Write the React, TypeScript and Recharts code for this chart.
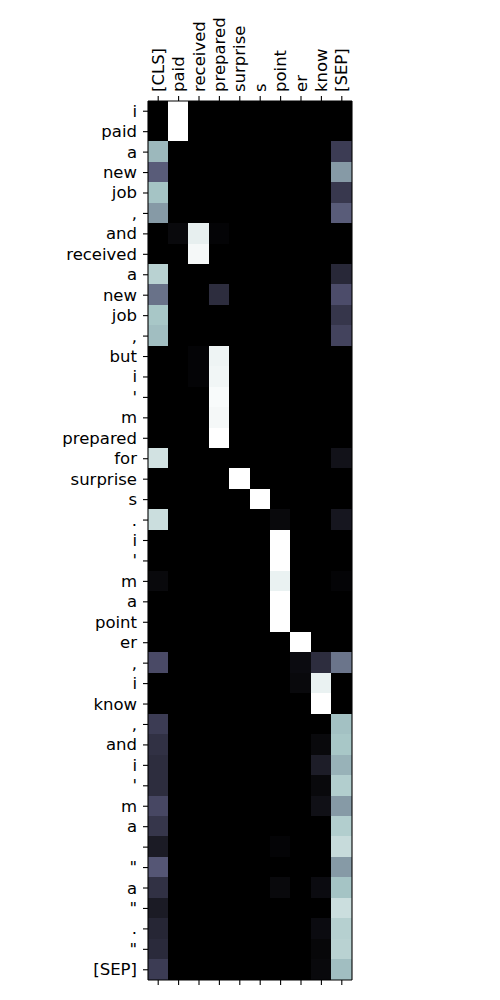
import React from "react";
import { BarChart, Bar, XAxis, YAxis, Cell } from "recharts";

const colLabels = ["[CLS]", "paid", "received", "prepared", "surprise", "s", "point", "er", "know", "[SEP]"];

const rowLabels = [
  "i", "paid", "a", "new", "job", ",", "and", "received", "a", "new", "job", ",",
  "but", "i", "'", "m", "prepared", "for", "surprise", "s", ".", "i", "'", "m",
  "a", "point", "er", ",", "i", "know", ",", "and", "i", "'", "m", "a", "",
  "\"", "a", "\"", ".", "\"", "[SEP]",
];

// attention weights per key column (rows in rowLabels order)
const colCLS = [0, 0, 0.7, 0.4, 0.74, 0.6, 0, 0, 0.8, 0.47, 0.75, 0.72, 0, 0, 0, 0, 0, 0.87, 0, 0, 0.85, 0, 0, 0.04, 0, 0, 0, 0.33, 0, 0, 0.27, 0.22, 0.2, 0.2, 0.32, 0.24, 0.12, 0.38, 0.22, 0.12, 0.17, 0.19, 0.27];
const colPaid = [1, 1, 0, 0, 0, 0, 0.04, 0, 0, 0, 0, 0, 0, 0, 0, 0, 0, 0, 0, 0, 0, 0, 0, 0, 0, 0, 0, 0, 0, 0, 0, 0, 0, 0, 0, 0, 0, 0, 0, 0, 0, 0, 0];
const colReceived = [0, 0, 0, 0, 0, 0, 0.93, 0.97, 0, 0, 0, 0, 0.02, 0.02, 0, 0, 0, 0, 0, 0, 0, 0, 0, 0, 0, 0, 0, 0, 0, 0, 0, 0, 0, 0, 0, 0, 0, 0, 0, 0, 0, 0, 0];
const colPrepared = [0, 0, 0, 0, 0, 0, 0.02, 0, 0, 0.2, 0, 0, 0.95, 0.96, 0.98, 0.97, 1, 0, 0, 0, 0, 0, 0, 0, 0, 0, 0, 0, 0, 0, 0, 0, 0, 0, 0, 0, 0, 0, 0, 0, 0, 0, 0];
const colSurprise = [0, 0, 0, 0, 0, 0, 0, 0, 0, 0, 0, 0, 0, 0, 0, 0, 0, 0, 1, 0, 0, 0, 0, 0, 0, 0, 0, 0, 0, 0, 0, 0, 0, 0, 0, 0, 0, 0, 0, 0, 0, 0, 0];
const colS = [0, 0, 0, 0, 0, 0, 0, 0, 0, 0, 0, 0, 0, 0, 0, 0, 0, 0, 0, 1, 0, 0, 0, 0, 0, 0, 0, 0, 0, 0, 0, 0, 0, 0, 0, 0, 0, 0, 0, 0, 0, 0, 0];
const colPoint = [0, 0, 0, 0, 0, 0, 0, 0, 0, 0, 0, 0, 0, 0, 0, 0, 0, 0, 0, 0, 0.04, 1, 1, 0.94, 1, 1, 0, 0, 0, 0, 0, 0, 0, 0, 0, 0, 0.02, 0, 0.04, 0, 0, 0, 0];
const colEr = [0, 0, 0, 0, 0, 0, 0, 0, 0, 0, 0, 0, 0, 0, 0, 0, 0, 0, 0, 0, 0, 0, 0, 0, 0, 0, 1, 0.05, 0.04, 0, 0, 0, 0, 0, 0, 0, 0, 0, 0, 0, 0, 0, 0];
const colKnow = [0, 0, 0, 0, 0, 0, 0, 0, 0, 0, 0, 0, 0, 0, 0, 0, 0, 0, 0, 0, 0, 0, 0, 0, 0, 0, 0, 0.2, 0.94, 1, 0, 0.04, 0.13, 0.04, 0.07, 0, 0, 0, 0.05, 0, 0.05, 0.03, 0.04];
const colSEP = [0, 0, 0.27, 0.6, 0.25, 0.4, 0, 0, 0.18, 0.34, 0.24, 0.3, 0, 0, 0, 0, 0, 0.08, 0, 0, 0.1, 0, 0, 0.02, 0, 0, 0, 0.48, 0, 0, 0.73, 0.75, 0.68, 0.78, 0.6, 0.78, 0.84, 0.6, 0.74, 0.85, 0.79, 0.8, 0.72];

const columns = [colCLS, colPaid, colReceived, colPrepared, colSurprise, colS, colPoint, colEr, colKnow, colSEP];

// matplotlib "bone" colormap
function interp(t: number, pts: number[][]): number {
  for (let i = 1; i < pts.length; i++) {
    if (t <= pts[i][0]) {
      const [x0, y0] = pts[i - 1];
      const [x1, y1] = pts[i];
      return y0 + ((t - x0) / (x1 - x0)) * (y1 - y0);
    }
  }
  return pts[pts.length - 1][1];
}
function bone(v: number): string {
  const t = Math.max(0, Math.min(1, v));
  const r = interp(t, [[0, 0], [0.746032, 0.652778], [1, 1]]);
  const g = interp(t, [[0, 0], [0.365079, 0.319444], [0.746032, 0.777778], [1, 1]]);
  const b = interp(t, [[0, 0], [0.365079, 0.444444], [1, 1]]);
  const h = (x: number) => Math.round(x * 255).toString(16).padStart(2, "0");
  return `#${h(r)}${h(g)}${h(b)}`;
}

const data = rowLabels.map((_, i) => {
  const row: Record<string, number> = { idx: i };
  colLabels.forEach((_, j) => {
    row[`c${j}`] = 1;
  });
  return row;
});

const colTicks = colLabels.map((_, j) => j + 0.5);
const FONT = "'DejaVu Sans', sans-serif";
const FS = 16.5;

const TopTick = (props: any) => {
  const { x, y, payload } = props;
  const label = colLabels[Math.round(payload.value - 0.5)];
  return (
    <text
      x={x}
      y={y}
      transform={`rotate(-90, ${x}, ${y})`}
      textAnchor="start"
      dominantBaseline="central"
      fontFamily={FONT}
      fontSize={FS}
      fill="#000"
    >
      {label}
    </text>
  );
};

const LeftTick = (props: any) => {
  const { x, y, payload } = props;
  return (
    <text
      x={x}
      y={y}
      textAnchor="end"
      dominantBaseline="central"
      fontFamily={FONT}
      fontSize={FS}
      fill="#000"
    >
      {rowLabels[payload.value]}
    </text>
  );
};

const EmptyTick = () => <g />;

export default function App() {
  return (
    <div style={{ position: "absolute", left: 0, top: 0, width: 500, height: 1000, background: "#fff" }}>
      <BarChart
        width={500}
        height={1000}
        data={data}
        layout="vertical"
        barCategoryGap={0}
        barGap={0}
        margin={{ top: 0, right: 0, bottom: 0, left: 0 }}
      >
        <XAxis
          xAxisId="top"
          type="number"
          orientation="top"
          domain={[0, 10]}
          ticks={colTicks}
          height={101}
          tickSize={5}
          tickMargin={4}
          tick={<TopTick />}
          stroke="#000"
          axisLine={{ stroke: "#000", strokeWidth: 1.1 }}
          tickLine={{ stroke: "#000", strokeWidth: 1.1 }}
          interval={0}
          allowDataOverflow
        />
        <XAxis
          xAxisId="bottom"
          type="number"
          orientation="bottom"
          domain={[0, 10]}
          ticks={colTicks}
          height={20}
          tickSize={5}
          tick={EmptyTick}
          stroke="#000"
          axisLine={{ stroke: "#000", strokeWidth: 1.1 }}
          tickLine={{ stroke: "#000", strokeWidth: 1.1 }}
          interval={0}
          allowDataOverflow
        />
        <YAxis
          yAxisId="left"
          type="category"
          dataKey="idx"
          width={148}
          tickSize={5}
          tickMargin={6}
          tick={<LeftTick />}
          stroke="#000"
          axisLine={{ stroke: "#000", strokeWidth: 1.1 }}
          tickLine={{ stroke: "#000", strokeWidth: 1.1 }}
          interval={0}
        />
        <YAxis
          yAxisId="right"
          type="category"
          dataKey="idx"
          orientation="right"
          width={148}
          tick={false}
          tickLine={false}
          axisLine={{ stroke: "#000", strokeWidth: 1.1 }}
        />
        {colLabels.map((_, j) => (
          <Bar
            key={j}
            dataKey={`c${j}`}
            stackId="s"
            xAxisId="top"
            yAxisId="left"
            isAnimationActive={false}
          >
            {data.map((_, i) => (
              <Cell
                key={i}
                fill={bone(columns[j][i])}
                stroke={bone(columns[j][i])}
                strokeWidth={1}
                shapeRendering="crispEdges"
              />
            ))}
          </Bar>
        ))}
      </BarChart>
    </div>
  );
}
